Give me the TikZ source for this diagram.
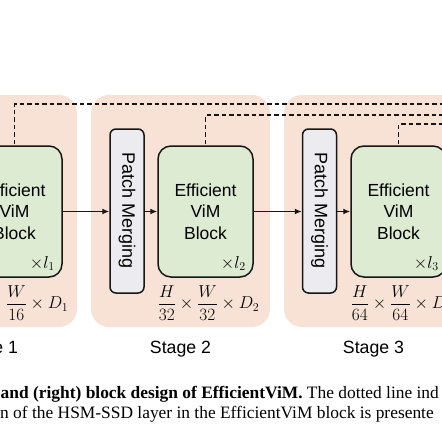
\documentclass[tikz,border=0pt]{standalone}
\usepackage{fontspec}
\usepackage{graphicx}
\setmainfont{Liberation Serif}
\setsansfont{Liberation Sans}
\usetikzlibrary{arrows.meta}
\definecolor{peach}{HTML}{F8E2D5}
\definecolor{vimgreen}{HTML}{DCEBD2}
\definecolor{pmgray}{HTML}{ECECF0}
\definecolor{ink}{HTML}{161616}
\begin{document}
\begin{tikzpicture}[x=1pt,y=-1pt,
  stagebox/.style={fill=peach, draw=none, rounded corners=18pt, minimum width=179pt, minimum height=232pt, inner sep=0pt},
  vimbox/.style={draw=ink, line width=1.5pt, fill=vimgreen, rounded corners=13pt, minimum width=95pt, minimum height=131pt, inner sep=0pt, align=center, font=\sffamily\fontsize{17.5}{21.5}\selectfont},
  pmbox/.style={draw=ink, line width=1.5pt, fill=pmgray, rounded corners=6pt, minimum width=34pt, minimum height=164pt, inner sep=0pt, font=\sffamily\fontsize{18}{20}\selectfont},
  flow/.style={draw=ink, line width=1.5pt, -{Latex[length=7pt,width=6pt]}},
  skipline/.style={draw=ink, line width=1.3pt, dash pattern=on 4.5pt off 3pt},
  dimlabel/.style={inner sep=0pt, font=\fontsize{17}{20}\selectfont},
  replabel/.style={inner sep=0pt, anchor=base east, font=\fontsize{17}{20}\selectfont},
  stagelabel/.style={inner sep=0pt, anchor=base, font=\sffamily\fontsize{17.7}{20}\selectfont},
  captionline/.style={inner sep=0pt, anchor=base west, font=\fontsize{17.4}{20}\selectfont}
]
\useasboundingbox (0,0) rectangle (442,442);
\clip (0,0) rectangle (442,442);
% stage containers
\node[stagebox] (s1) at (-12.5,211) {};
\node[stagebox] (s2) at (180.5,211) {};
\node[stagebox] (s3) at (373.5,211) {};
% skip connections (drawn under the blocks)
\coordinate (d1) at (460,104);
\coordinate (d2) at (460,115);
\coordinate (d3) at (460,124);
\path (14.5,211.5) coordinate (g1c) (205.5,211.5) coordinate (g2c) (398.5,211.5) coordinate (g3c);
\draw[skipline] (g1c) |- (d1);
\draw[skipline] (g2c) |- (d2);
\draw[skipline] (g3c) |- (d3);
% blocks
\node[vimbox] (g1) at (g1c) {Efficient\\ViM\\Block};
\node[vimbox] (g2) at (g2c) {Efficient\\ViM\\Block};
\node[vimbox] (g3) at (g3c) {Efficient\\ViM\\Block};
\node[pmbox] (p2) at (127,211) {\rotatebox{-90}{Patch Merging}};
\node[pmbox] (p3) at (319.5,211) {\rotatebox{-90}{Patch Merging}};
% flow arrows
\draw[flow] (g1.east) -- (p2.west |- g1.east);
\draw[flow] (p2.east |- g2.west) -- (g2.west);
\draw[flow] (g2.east) -- (p3.west |- g2.east);
\draw[flow] (p3.east |- g3.west) -- (g3.west);
% repeat counts
\node[replabel] (l1) at (55,268) {$\times l_1$};
\node[replabel] (l2) at (246,268) {$\times l_2$};
\node[replabel] (l3) at (439,268) {$\times l_3$};
% resolutions
\node[dimlabel] (m1) at (17.5,303) {$\displaystyle\frac{H}{16}\times\frac{W}{16}\times D_1$};
\node[dimlabel] (m2) at (208.5,303) {$\displaystyle\frac{H}{32}\times\frac{W}{32}\times D_2$};
\node[dimlabel] (m3) at (401.5,303) {$\displaystyle\frac{H}{64}\times\frac{W}{64}\times D_3$};
% stage names
\node[stagelabel] (t1) at (-12.5,353) {Stage 1};
\node[stagelabel] (t2) at (180.5,353) {Stage 2};
\node[stagelabel] (t3) at (373.5,353) {Stage 3};
% caption fragment
\node[captionline] (c1) at (0.5,398) {\textbf{and (right) block design of EfficientViM.} The dotted line ind};
\node[captionline] (c2) at (0,418) {n of the HSM-SSD layer in the EfficientViM block is presente};
\end{tikzpicture}
\end{document}
